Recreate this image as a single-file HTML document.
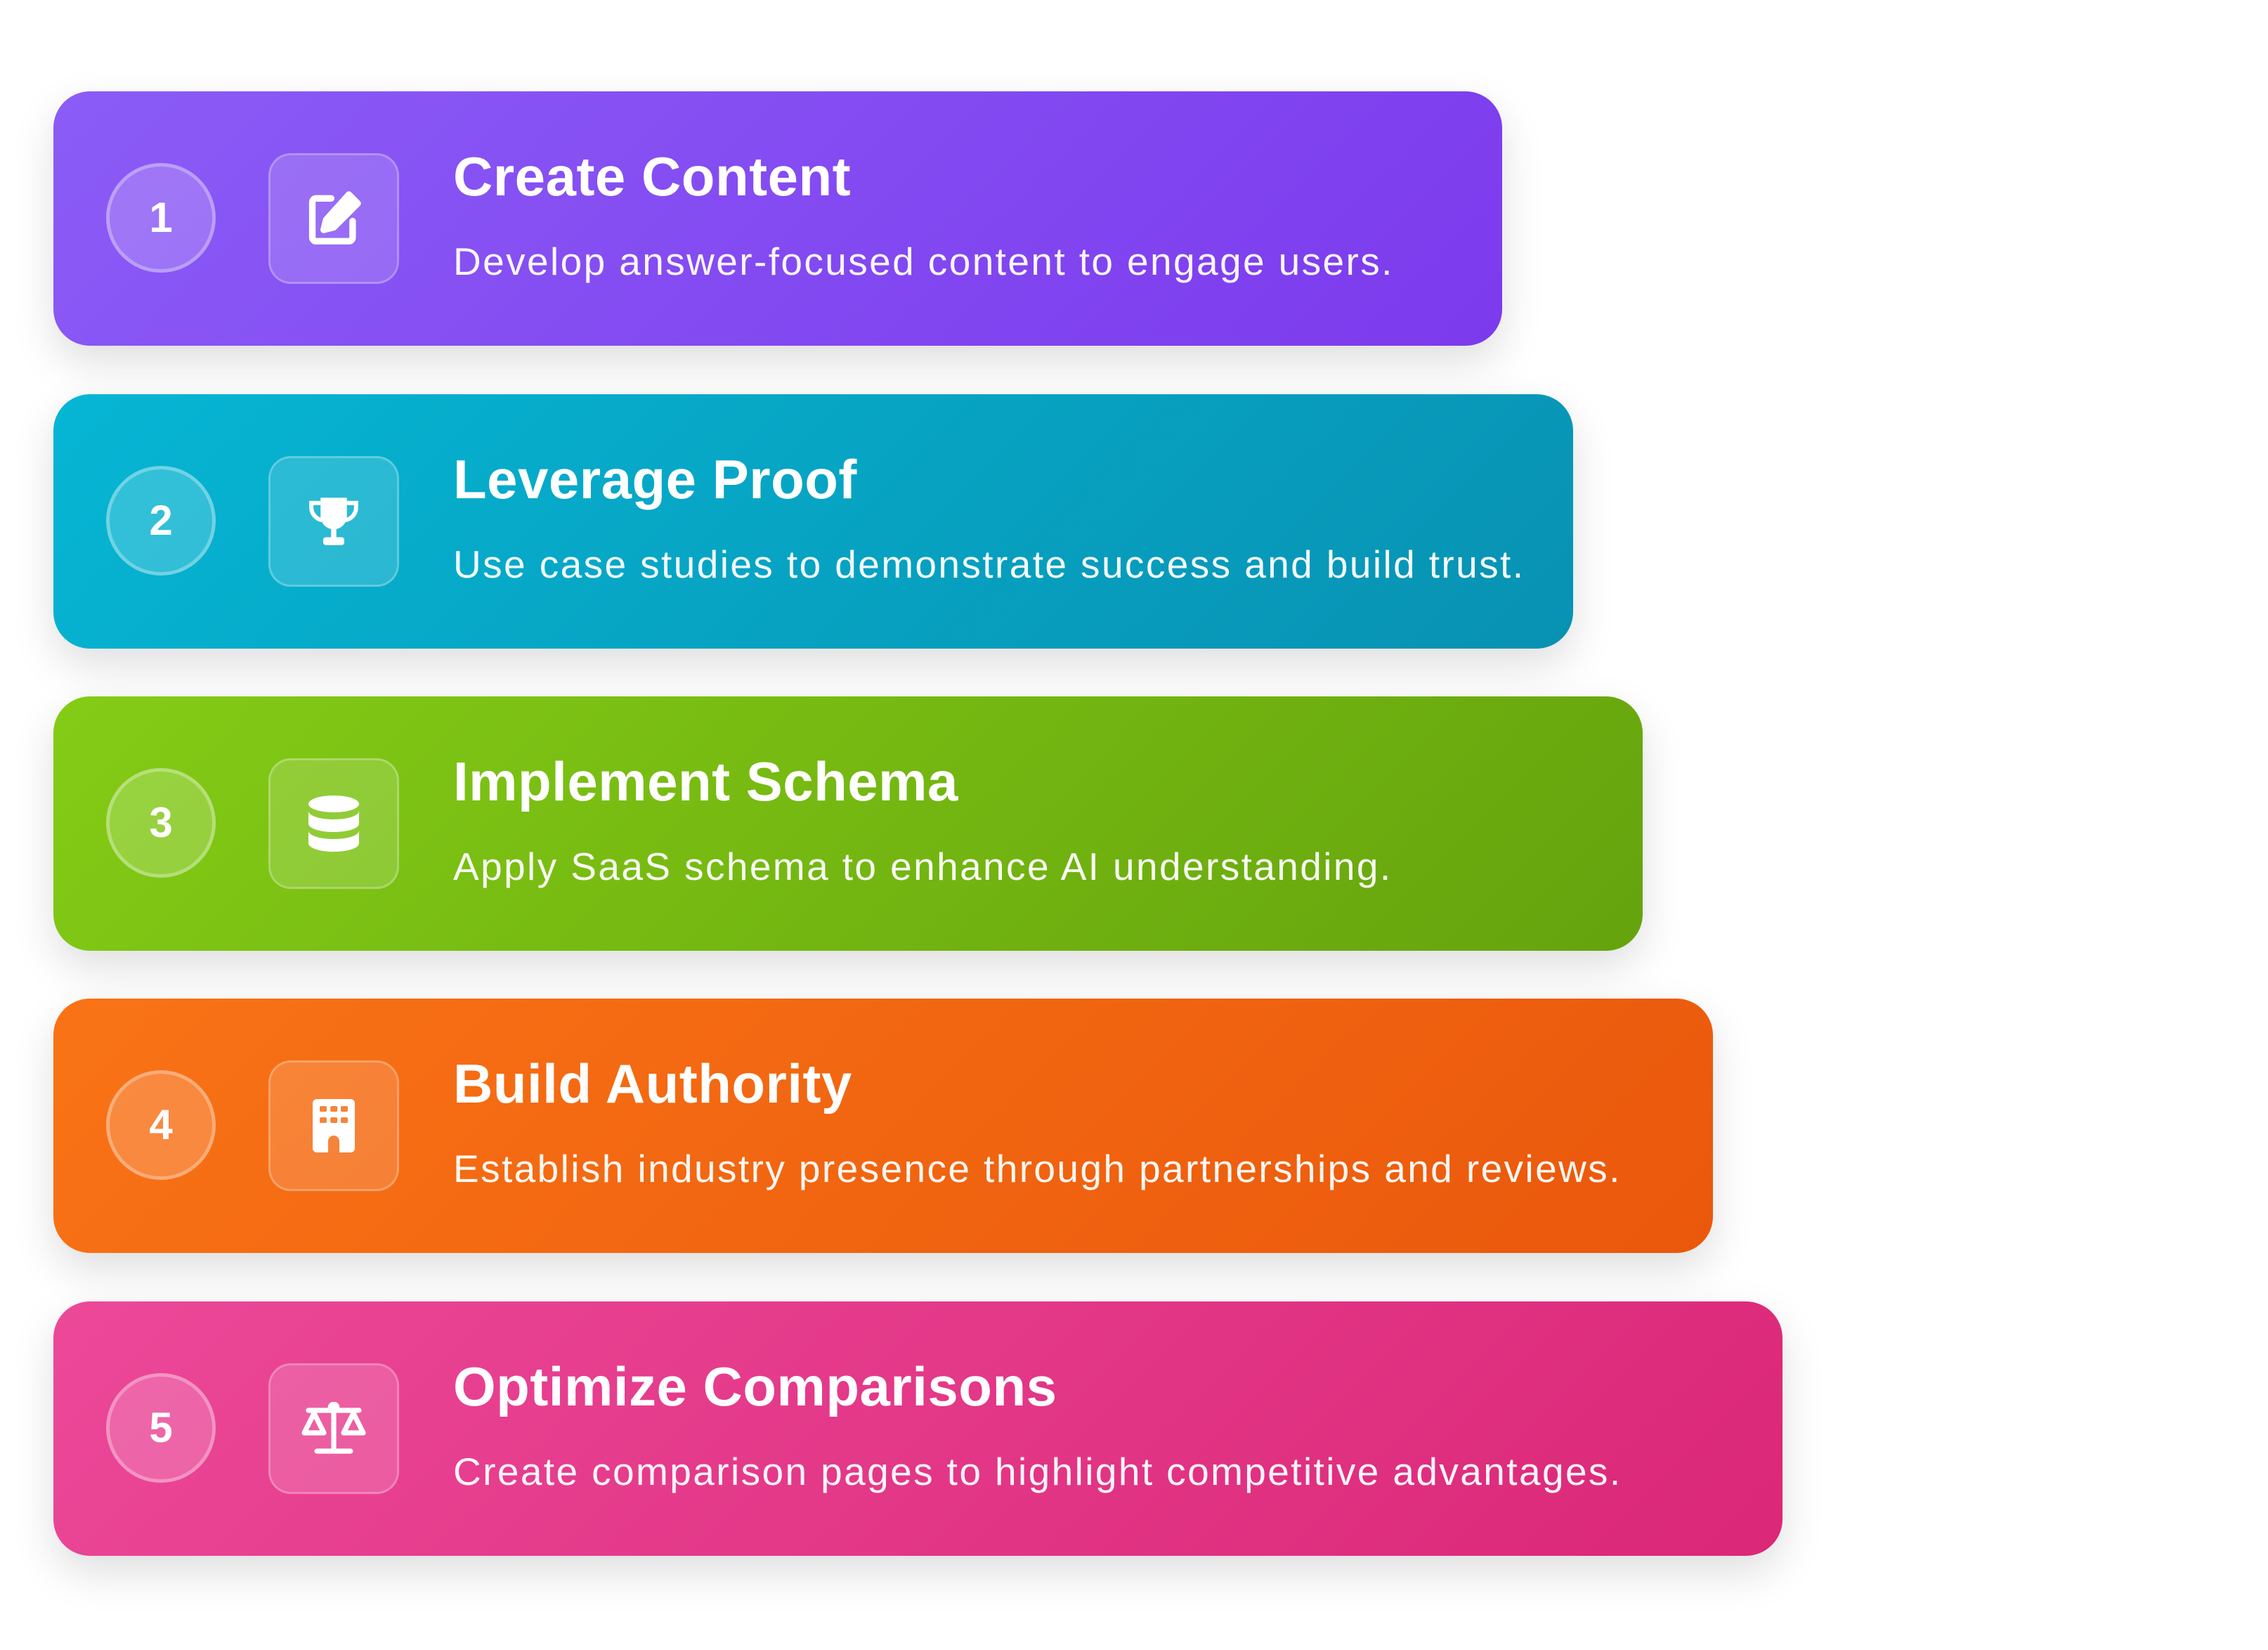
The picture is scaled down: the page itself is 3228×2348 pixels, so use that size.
<!DOCTYPE html>
<html><head><meta charset="utf-8"><style>
html,body{margin:0;padding:0;background:#fff;width:3228px;height:2348px;overflow:hidden;font-family:"Liberation Sans",sans-serif}
.card{position:absolute;left:76px;height:362px;border-radius:52px;box-shadow:0 24px 60px rgba(0,0,0,0.13);color:#fff}
.num{position:absolute;left:75px;top:102px;width:156px;height:156px;border-radius:50%;box-sizing:border-box;border:5px solid rgba(255,255,255,0.3);background:rgba(255,255,255,0.18);font-weight:900;font-size:60px;line-height:146px;text-align:center}
.ico{position:absolute;left:306px;top:88px;width:186px;height:186px;border-radius:32px;box-sizing:border-box;border:3px solid rgba(255,255,255,0.25);background:rgba(255,255,255,0.15);display:flex;align-items:center;justify-content:center}
.t{position:absolute;left:569px;top:76px;font-weight:900;font-size:78px;letter-spacing:0.5px;white-space:nowrap}
.d{position:absolute;left:569px;top:210px;font-size:55px;letter-spacing:2.4px;white-space:nowrap;color:rgba(255,255,255,0.95)}
</style></head><body>

<div class="card" style="top:130px;width:2062px;background:linear-gradient(135deg,#8b5cf6,#7c3aed)">
<div class="num">1</div>
<div class="ico"><svg width="86" height="86" viewBox="0 0 24 24" fill="none" stroke="#fff" stroke-width="2.6" stroke-linecap="round" stroke-linejoin="round"><path d="M11 4H5a1.5 1.5 0 0 0-1.5 1.5v14A1.5 1.5 0 0 0 5 21h13a1.5 1.5 0 0 0 1.5-1.5V13"/><path d="M18 2.5l3.5 3.5L12 15.5l-4 1 1-4z" fill="#fff"/></svg></div>
<div class="t">Create Content</div>
<div class="d">Develop answer-focused content to engage users.</div>
</div>

<div class="card" style="top:561px;width:2163px;background:linear-gradient(135deg,#06b6d4,#0891b2)">
<div class="num">2</div>
<div class="ico"><svg width="90" height="90" viewBox="0 0 24 24" fill="#fff"><path d="M7 3h10v7a5 5 0 0 1-10 0z"/><path d="M7 5H3.5v2a5 5 0 0 0 4 4.5M17 5h3.5v2a5 5 0 0 1-4 4.5" fill="none" stroke="#fff" stroke-width="1.6"/><rect x="11" y="14" width="2" height="4"/><rect x="8" y="18" width="8" height="3" rx="1"/></svg></div>
<div class="t">Leverage Proof</div>
<div class="d">Use case studies to demonstrate success and build trust.</div>
</div>

<div class="card" style="top:991px;width:2262px;background:linear-gradient(135deg,#84cc16,#65a30d)">
<div class="num">3</div>
<div class="ico"><svg width="80" height="90" viewBox="0 0 20 22" fill="#fff"><ellipse cx="10" cy="4" rx="9" ry="3"/><path d="M1 6.5c0 1.7 4 3 9 3s9-1.3 9-3V11c0 1.7-4 3-9 3s-9-1.3-9-3z"/><path d="M1 13.5c0 1.7 4 3 9 3s9-1.3 9-3V18c0 1.7-4 3-9 3s-9-1.3-9-3z"/></svg></div>
<div class="t">Implement Schema</div>
<div class="d">Apply SaaS schema to enhance AI understanding.</div>
</div>

<div class="card" style="top:1421px;width:2362px;background:linear-gradient(135deg,#f97316,#ea580c)">
<div class="num">4</div>
<div class="ico"><svg width="60" height="76" viewBox="0 0 15 19"><rect x="0" y="0" width="15" height="19" rx="1.5" fill="#fff"/><g fill="#f5843a"><rect x="2.5" y="2.5" width="2.5" height="2" rx=".5"/><rect x="6.3" y="2.5" width="2.5" height="2" rx=".5"/><rect x="10" y="2.5" width="2.5" height="2" rx=".5"/><rect x="2.5" y="6.5" width="2.5" height="2" rx=".5"/><rect x="6.3" y="6.5" width="2.5" height="2" rx=".5"/><rect x="10" y="6.5" width="2.5" height="2" rx=".5"/><path d="M5.5 19v-4a2 2 0 0 1 4 0v4z"/></g></svg></div>
<div class="t">Build Authority</div>
<div class="d">Establish industry presence through partnerships and reviews.</div>
</div>

<div class="card" style="top:1852px;width:2461px;background:linear-gradient(135deg,#ec4899,#db2777)">
<div class="num">5</div>
<div class="ico"><svg width="96" height="76" viewBox="0 0 24 19" fill="none" stroke="#fff" stroke-width="1.8" stroke-linejoin="round" stroke-linecap="round"><path d="M3 3h18M12 1v16M6 17.5h12"/><path d="M5 4l-3.5 7h7z"/><path d="M19 4l-3.5 7h7z"/><circle cx="12" cy="2" r="1.2" fill="#fff"/></svg></div>
<div class="t">Optimize Comparisons</div>
<div class="d">Create comparison pages to highlight competitive advantages.</div>
</div>

</body></html>
